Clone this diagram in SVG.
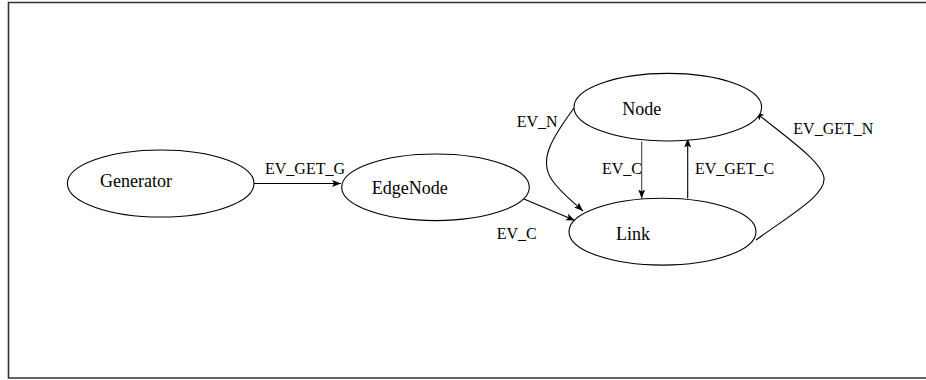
<svg xmlns="http://www.w3.org/2000/svg" width="926" height="380" viewBox="0 0 926 380">
<style>
  .node ellipse { fill: #ffffff; stroke: #000000; stroke-width: 1.1; }
  .nlabel { font-family: "Liberation Serif", "Times New Roman", serif; font-size: 18px; fill: #000; }
  .elabel { font-family: "Liberation Serif", "Times New Roman", serif; font-size: 16px; fill: #000; }
  .edge { fill: none; stroke: #000; stroke-width: 1.1; marker-end: url(#arrow); }
  .frame { stroke: #333; stroke-width: 1.6; fill: none; }
</style>
<defs>
  <marker id="arrow" markerUnits="userSpaceOnUse" markerWidth="10" markerHeight="8" refX="9" refY="3.5" orient="auto">
    <path d="M0,0 L9,3.5 L0,7 L2,3.5 z" fill="#000"/>
  </marker>
</defs>
<rect width="926" height="380" fill="#ffffff"/>
<path class="frame" d="M926,2.5 L8.5,2.5 L8.5,378 L926,378"/>

<g id="connectors">
  <line class="edge" x1="254" y1="183.5" x2="341" y2="183.5"/>
  <line class="edge" x1="524" y1="199" x2="575" y2="220.5"/>
  <path class="edge" d="M574,108 C552,138 538,160 552,180 C560,192 572,201 583,211"/>
  <line class="edge" x1="641.7" y1="141.5" x2="641.7" y2="198.5" style="stroke:#444"/>
  <line class="edge" x1="687.7" y1="198.5" x2="687.7" y2="138.5"/>
  <path class="edge" d="M756,240 C790,215 826,195 824,178 C822,162 790,140 755,112"/>
  <text class="elabel" x="265" y="174">EV_GET_G</text>
  <text class="elabel" x="496.7" y="239.3">EV_C</text>
  <text class="elabel" x="516.7" y="127.3">EV_N</text>
  <text class="elabel" x="602" y="174.3">EV_C</text>
  <text class="elabel" x="695" y="174.3">EV_GET_C</text>
  <text class="elabel" x="793.3" y="134">EV_GET_N</text>
</g>

<g id="generator" class="node">
  <ellipse cx="160.7" cy="183.5" rx="93.3" ry="33.5"/>
  <text class="nlabel" x="100" y="187">Generator</text>
</g>
<g id="edgenode" class="node">
  <ellipse cx="435.5" cy="187.3" rx="93.8" ry="33.3"/>
  <text class="nlabel" x="371.7" y="194">EdgeNode</text>
</g>
<g id="node" class="node">
  <ellipse cx="667.8" cy="107.2" rx="93.8" ry="33.8"/>
  <text class="nlabel" x="622.3" y="115">Node</text>
</g>
<g id="link" class="node">
  <ellipse cx="662.5" cy="231.7" rx="93.5" ry="33.4"/>
  <text class="nlabel" x="616" y="240">Link</text>
</g>
</svg>
